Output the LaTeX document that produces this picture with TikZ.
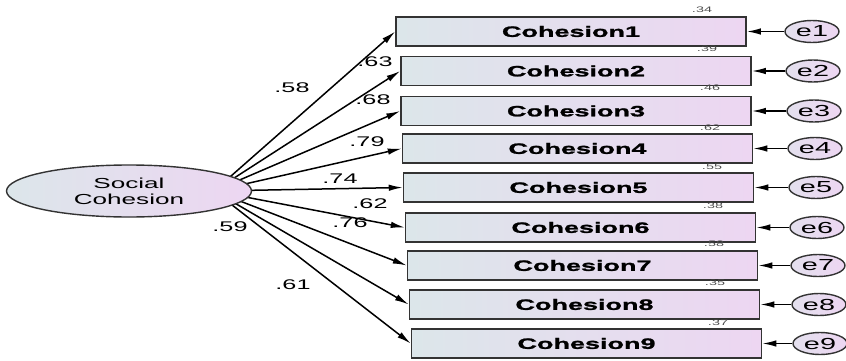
\documentclass[tikz,border=0pt]{standalone}
\usepackage{fontspec}
\setmainfont{Liberation Sans}
\newfontfamily\widefont[FakeStretch=1.8, BoldFeatures={FakeBold=1.5}]{Liberation Sans}
\usetikzlibrary{arrows.meta,shapes.geometric}

\definecolor{fillleft}{HTML}{DCE6EA}
\definecolor{fillright}{HTML}{EDD6F2}
\definecolor{edgegray}{HTML}{333333}

\tikzset{
  item/.style={draw=edgegray, line width=1.5pt, left color=fillleft, right color=fillright,
    minimum width=350pt, minimum height=29pt, inner sep=0pt,
    font=\widefont\bfseries\fontsize{15}{15}\selectfont},
  factor/.style={ellipse, draw=edgegray, line width=1.4pt, left color=fillleft, right color=fillright,
    minimum width=245pt, minimum height=52pt, inner sep=0pt, align=center,
    font=\widefont\fontsize{14.5}{16}\selectfont},
  err/.style={ellipse, draw=edgegray, line width=1.4pt, left color=fillleft!60!fillright, right color=fillright,
    minimum width=54pt, minimum height=22pt, inner sep=0pt,
    font=\widefont\fontsize{16}{16}\selectfont},
  load/.style={line width=1.5pt, -{Latex[length=14pt,width=6.5pt]}},
  coef/.style={font=\widefont\fontsize{14}{14}\selectfont},
  rsq/.style={font=\widefont\fontsize{8}{8}\selectfont, text=black!70}
}

\begin{document}
\begin{tikzpicture}[x=1pt, y=1pt]
  \useasboundingbox (0,0) rectangle (846,-361);

  % observed items
  \node[item] (c1) at (571.0,-31.5)  {Cohesion1};
  \node[item] (c2) at (576.0,-71.0)  {Cohesion2};
  \node[item] (c3) at (576.0,-111.0) {Cohesion3};
  \node[item] (c4) at (577.5,-148.5) {Cohesion4};
  \node[item] (c5) at (578.5,-187.5) {Cohesion5};
  \node[item] (c6) at (580.5,-227.5) {Cohesion6};
  \node[item] (c7) at (582.5,-265.5) {Cohesion7};
  \node[item] (c8) at (584.5,-304.5) {Cohesion8};
  \node[item] (c9) at (586.5,-343.5) {Cohesion9};

  % error terms
  \node[err] (e1) at (812,-31.5)  {e1};
  \node[err] (e2) at (813,-71.0)  {e2};
  \node[err] (e3) at (814,-111.0) {e3};
  \node[err] (e4) at (815,-148.5) {e4};
  \node[err] (e5) at (816,-187.5) {e5};
  \node[err] (e6) at (817,-227.5) {e6};
  \node[err] (e7) at (818,-265.5) {e7};
  \node[err] (e8) at (819,-304.5) {e8};
  \node[err] (e9) at (820,-343.5) {e9};

  % loadings (start hidden under the factor, drawn next)
  \coordinate (hub) at (214,-191);
  \draw[load] (hub) -- (c1.west);
  \draw[load] (hub) -- (c2.west);
  \draw[load] (hub) -- (c3.west);
  \draw[load] (hub) -- (c4.west);
  \draw[load] (hub) -- (c5.west);
  \draw[load] (hub) -- (c6.west);
  \draw[load] (hub) -- (c7.west);
  \draw[load] (hub) -- (c8.west);
  \draw[load] (hub) -- (c9.west);

  % latent factor
  \node[factor] (soc) at (129,-191) {Social\\Cohesion};

  % error paths
  \draw[load] (e1) -- (c1.east);
  \draw[load] (e2) -- (c2.east);
  \draw[load] (e3) -- (c3.east);
  \draw[load] (e4) -- (c4.east);
  \draw[load] (e5) -- (c5.east);
  \draw[load] (e6) -- (c6.east);
  \draw[load] (e7) -- (c7.east);
  \draw[load] (e8) -- (c8.east);
  \draw[load] (e9) -- (c9.east);

  % standardized weights
  \node[coef] (w1) at (292,-88)  {.58};
  \node[coef] (w2) at (375,-62)  {.63};
  \node[coef] (w3) at (373,-100) {.68};
  \node[coef] (w4) at (367,-142) {.79};
  \node[coef] (w5) at (340,-179) {.74};
  \node[coef] (w6) at (370,-204) {.62};
  \node[coef] (w7) at (350,-223) {.76};
  \node[coef] (w8) at (230,-227) {.59};
  \node[coef] (w9) at (293,-285) {.61};

  % squared multiple correlations
  \node[rsq] (r1) at (702,-10)  {.34};
  \node[rsq] (r2) at (707,-49)  {.39};
  \node[rsq] (r3) at (710,-88)  {.46};
  \node[rsq] (r4) at (710,-128) {.62};
  \node[rsq] (r5) at (712,-167) {.55};
  \node[rsq] (r6) at (713,-206) {.38};
  \node[rsq] (r7) at (714,-244) {.58};
  \node[rsq] (r8) at (715,-283) {.35};
  \node[rsq] (r9) at (718,-323) {.37};
\end{tikzpicture}
\end{document}
